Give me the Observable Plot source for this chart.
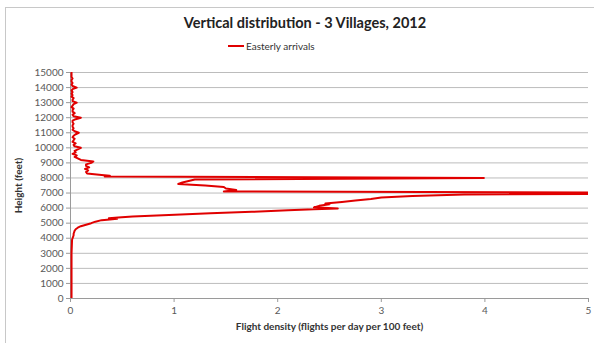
<!DOCTYPE html>
<html>
<head>
<meta charset="utf-8">
<script src="https://cdn.jsdelivr.net/npm/d3@7"></script>
<script src="https://cdn.jsdelivr.net/npm/@observablehq/plot@0.6"></script>
<style>
  html, body { margin: 0; padding: 0; background: #fff; }
  #wrap { position: relative; width: 594px; height: 343px; overflow: hidden; font-family: Lato, "Open Sans", sans-serif; }
  #frame { position: absolute; left: 5px; top: 7px; width: 600px; height: 400px; border: 1px solid #c8c8c8; box-sizing: border-box; }
  #title { position: absolute; left: 0; width: 610px; top: 14px; text-align: center; font-size: 14.5px; font-weight: bold; color: #222; }
  #legend { position: absolute; left: 228px; top: 40px; font-size: 10px; color: #333; display: flex; align-items: center; }
  #legend .sw { width: 16px; height: 2px; background: #e00000; margin-right: 2px; }
  #chart { position: absolute; left: 0; top: 0; }
</style>
</head>
<body>
<div id="wrap">
  <div id="frame"></div>
  <div id="title">Vertical distribution - 3 Villages, 2012</div>
  <div id="legend"><span class="sw"></span><span>Easterly arrivals</span></div>
  <div id="chart"></div>
</div>
<script>
const seriesName = "Easterly arrivals";
const heights = [
  0, 1000, 2000, 3000, 3900, 4000, 4100, 4200, 4300, 4400, 4500, 4600, 4700, 4800, 4900,
  5000, 5100, 5200, 5250, 5300, 5330, 5370, 5450, 5550, 5650, 5750, 5850, 5920, 5970,
  6050, 6150, 6250, 6300, 6400, 6500, 6600, 6700, 6800, 6900, 7000,
  7100, 7200, 7300, 7400, 7500, 7600, 7700, 7800, 7900, 8000,
  8100, 8150, 8200, 8300, 8400, 8500, 8600, 8700, 8800, 8900, 9000, 9100, 9200, 9300, 9400,
  9500, 9600, 9700, 9800, 9900, 10000, 10100, 10200, 10300, 10400, 10500, 10600, 10700, 10800,
  10900, 11000, 11100, 11200, 11300, 11400, 11500, 11600, 11700, 11800, 11900, 12000, 12100,
  12200, 12300, 12400, 12500, 12600, 12700, 12800, 12900, 13000, 13100, 13200, 13300, 13400,
  13500, 13600, 13700, 13800, 13900, 14000, 14100, 14200, 14300, 14400, 14500, 14600, 14700,
  14800, 14900, 15000
];
const density = [
  0.01, 0.01, 0.01, 0.01, 0.015, 0.02, 0.025, 0.03, 0.03, 0.035, 0.04, 0.05, 0.07, 0.1, 0.15,
  0.2, 0.24, 0.3, 0.38, 0.45, 0.37, 0.46, 0.6, 0.95, 1.35, 1.75, 2.1, 2.35, 2.58,
  2.35, 2.4, 2.5, 2.46, 2.62, 2.75, 2.9, 3.0, 3.3, 3.8, 7.0,
  1.48, 1.6, 1.5, 1.48, 1.3, 1.04, 1.08, 1.14, 1.2, 3.99,
  0.33, 0.38, 0.3, 0.16, 0.15, 0.17, 0.14, 0.18, 0.15, 0.15, 0.2, 0.22, 0.1, 0.07, 0.04,
  0.06, 0.02, 0.05, 0.04, 0.07, 0.1, 0.04, 0.03, 0.05, 0.02, 0.03, 0.04, 0.02, 0.03,
  0.05, 0.08, 0.04, 0.02, 0.03, 0.02, 0.02, 0.03, 0.02, 0.02, 0.05, 0.1, 0.03,
  0.02, 0.04, 0.02, 0.02, 0.03, 0.01, 0.02, 0.03, 0.06, 0.02, 0.02, 0.03, 0.01,
  0.02, 0.01, 0.02, 0.01, 0.02, 0.06, 0.02, 0.01, 0.02, 0.01, 0.01, 0.02, 0.01,
  0.01, 0.01, 0.01
];
const xTicks = [0, 1, 2, 3, 4, 5];
const yTicks = [0, 1000, 2000, 3000, 4000, 5000, 6000, 7000, 8000, 9000, 10000, 11000, 12000, 13000, 14000, 15000];

const data = heights.map((h, i) => ({height: h, density: density[i]}));

const chart = Plot.plot({
  width: 594,
  height: 343,
  marginLeft: 70,
  marginRight: 6,
  marginTop: 72,
  marginBottom: 45,
  style: {fontFamily: "Lato, 'Open Sans', sans-serif", fontSize: "10px", color: "#595959", background: "transparent"},
  x: {domain: [0, 5]},
  y: {domain: [0, 15000]},
  marks: [
    Plot.gridY(yTicks, {stroke: "#bcbcbc", strokeOpacity: 1}),
    Plot.ruleX([0], {stroke: "#9a9a9a"}),
    Plot.ruleY([0], {stroke: "#9a9a9a"}),
    Plot.axisY(yTicks, {tickFormat: d => String(d), tickSize: 4, tickPadding: 3, stroke: "#9a9a9a", fill: "#595959", fontSize: 10, label: null}),
    Plot.axisX(xTicks, {tickFormat: d => String(d), tickSize: 4, tickPadding: 4, stroke: "#9a9a9a", fill: "#595959", fontSize: 10, label: null}),
    Plot.text(["Height (feet)"], {frameAnchor: "left", textAnchor: "middle", dx: -52, rotate: -90, fontWeight: "bold", fontSize: 10, fill: "#333"}),
    Plot.text(["Flight density (flights per day per 100 feet)"], {frameAnchor: "bottom", textAnchor: "middle", dy: 31, fontWeight: "bold", fontSize: 10, fill: "#333"}),
    Plot.line(data, {x: "density", y: "height", stroke: "#e00000", strokeWidth: 2, clip: true})
  ]
});
document.getElementById("chart").appendChild(chart);
</script>
</body>
</html>
